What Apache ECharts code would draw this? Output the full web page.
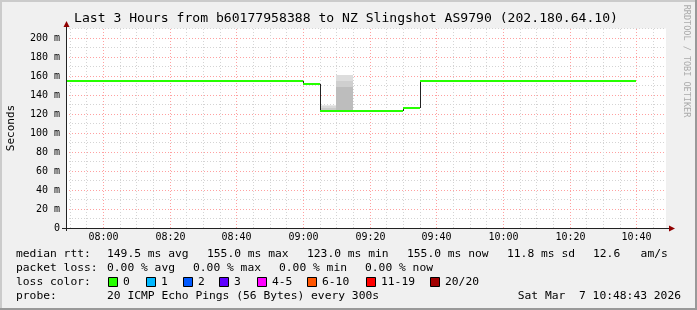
<!DOCTYPE html>
<html><head><meta charset="utf-8">
<script src="https://cdn.jsdelivr.net/npm/echarts@6/dist/echarts.min.js"></script>
<style>html,body{margin:0;padding:0;background:#F0F0F0}#c{width:697px;height:310px}</style>
</head><body><div id="c"></div>
<script>
// ---- data ----
const titleText = 'Last 3 Hours from b60177958388 to NZ Slingshot AS9790 (202.180.64.10)';
const endTime = '10:48:43';
const bucketStarts = ['07:45','07:50','07:55','08:00','08:05','08:10','08:15','08:20','08:25','08:30','08:35','08:40','08:45','08:50','08:55',
  '09:00','09:05','09:10','09:15','09:20','09:25','09:30',
  '09:35','09:40','09:45','09:50','09:55','10:00','10:05','10:10','10:15','10:20','10:25','10:30','10:35'];
const lastBucketEnd = '10:40';
const medianRtt = [155,155,155,155,155,155,155,155,155,155,155,155,155,155,155,
  152,123,123,123,123,123,126,
  155,155,155,155,155,155,155,155,155,155,155,155,155];
const smokeTimes = ['09:05','09:10'];
const smokeBounds = [[123,126,128,130],[123,148.5,155,161]];
const smokeShades = [['#cbcbcb','#dadada','#e8e8e8'],['#bdbdbd','#cfcfcf','#dddddd']];
const xTickLabels = ['08:00','08:20','08:40','09:00','09:20','09:40','10:00','10:20','10:40'];
const yMax = 210;
const medianStats = ['149.5 ms avg','155.0 ms max','123.0 ms min','155.0 ms now','11.8 ms sd','12.6   am/s'];
const lossStats = ['0.00 % avg','0.00 % max','0.00 % min','0.00 % now'];
const lossLabels = ['0','1','2','3','4-5','6-10','11-19','20/20'];
const lossColors = ['#26ff00','#00b8ff','#0059ff','#5e00ff','#ff00ff','#ff5500','#ff0000','#a10000'];
const probeText = '20 ICMP Echo Pings (56 Bytes) every 300s';
const dateText = 'Sat Mar  7 10:48:43 2026';

// ---- helpers ----
const toMin = s => { const p = s.split(':').map(Number); return p[0]*60 + p[1] + (p[2]||0)/60; };
const xMax = toMin(endTime), xMin = xMax - 180;
const MONO = '"DejaVu Sans Mono", monospace';

const gridTimes = [];
for (let t = Math.ceil(xMin/5)*5; t <= xMax; t += 5) gridTimes.push([t, t % 20 === 0 ? 1 : 0]);

const stepData = bucketStarts.map((s, i) => [
  toMin(s),
  toMin(i + 1 < bucketStarts.length ? bucketStarts[i+1] : lastBucketEnd),
  medianRtt[i],
  i > 0 ? medianRtt[i-1] : medianRtt[i]
]);
const smokeData = smokeTimes.map((s, i) => [toMin(s), toMin(s) + 5, i]);

const chart = echarts.init(document.getElementById('c'), null, {renderer: 'canvas'});

// legend graphics
const legendEls = [];
const txt = (x, y, text, extra) => legendEls.push(Object.assign({type:'text', x: x, y: y, silent: true,
  style: {text: text, font: '11.3px ' + MONO, fill: '#000', verticalAlign: 'middle', align: 'left'}}, extra || {}));
txt(16, 254, 'median rtt:');
const medX = [107, 207, 307, 407, 507, 593];
medianStats.forEach((s, i) => txt(medX[i], 254, s));
txt(16, 268, 'packet loss:');
const lossX = [107, 193, 279, 365];
lossStats.forEach((s, i) => txt(lossX[i], 268, s));
txt(16, 282, 'loss color:');
const boxX = [108, 146, 183, 219, 257, 307, 366, 430];
lossLabels.forEach((l, i) => {
  legendEls.push({type:'rect', silent:true, shape:{x: boxX[i]+0.5, y: 277.5, width: 9, height: 9},
    style:{fill: lossColors[i], stroke:'#000', lineWidth:1}});
  txt(boxX[i] + 15, 282, l);
});
txt(16, 296, 'probe:');
txt(107, 296, probeText);
legendEls.push({type:'text', x: 681, y: 296, silent:true,
  style:{text: dateText, font:'11.3px ' + MONO, fill:'#000', verticalAlign:'middle', align:'right'}});

const option = {
  animation: false,
  backgroundColor: '#F0F0F0',
  graphic: [
    {type:'rect', silent:true, shape:{x:0,y:0,width:697,height:2}, style:{fill:'#CBCBCB'}},
    {type:'rect', silent:true, shape:{x:0,y:0,width:2,height:310}, style:{fill:'#CBCBCB'}},
    {type:'rect', silent:true, shape:{x:0,y:308,width:697,height:2}, style:{fill:'#999999'}},
    {type:'rect', silent:true, shape:{x:695,y:0,width:2,height:310}, style:{fill:'#999999'}},
    {type:'text', silent:true, x: 346, y: 19,
      style:{text: titleText, font:'13.1px ' + MONO, fill:'#000', align:'center', verticalAlign:'middle'}},
    {type:'text', silent:true, x: 11, y: 128, rotation: Math.PI/2,
      style:{text:'Seconds', font:'11px ' + MONO, fill:'#000', align:'center', verticalAlign:'middle'}},
    {type:'text', silent:true, x: 686, y: 61, rotation: -Math.PI/2,
      style:{text:'RRDTOOL / TOBI OETIKER', font:'8.5px ' + MONO, fill:'#aaaaaa', align:'center', verticalAlign:'middle'}},
    // axes
    {type:'line', silent:true, z: 100, shape:{x1:66.5, y1:231, x2:66.5, y2:25}, style:{stroke:'#222', lineWidth:1}},
    {type:'line', silent:true, z: 100, shape:{x1:62, y1:228.5, x2:670, y2:228.5}, style:{stroke:'#222', lineWidth:1}},
    {type:'polygon', silent:true, z: 100, shape:{points:[[66.5,21],[63.5,27],[69.5,27]]}, style:{fill:'#900000'}},
    {type:'polygon', silent:true, z: 100, shape:{points:[[675,228.5],[669,225.5],[669,231.5]]}, style:{fill:'#900000'}}
  ].concat(legendEls),
  grid: {left: 66, top: 28.5, width: 600, height: 199.5, show: true, backgroundColor: '#fff', borderWidth: 0},
  xAxis: {type: 'value', min: xMin, max: xMax, axisLine: {show: false}, axisTick: {show: false},
    axisLabel: {show: false}, splitLine: {show: false}},
  yAxis: {type: 'value', min: 0, max: yMax, interval: 10,
    axisLine: {show: false}, axisTick: {show: false},
    axisLabel: {margin: 6, fontFamily: MONO, fontSize: 10, color: '#000',
      formatter: v => (v % 20 !== 0 || v > 200) ? '' : (v === 0 ? '0' : v + ' m')},
    splitLine: {show: true, lineStyle: {color: ['#FFA0A0', '#D4D4D4'], type: [1, 2], width: 1}}},
  series: [
    { // vertical grid lines
      type: 'custom', z: 1, clip: true, silent: true,
      data: gridTimes,
      renderItem: (params, api) => {
        const t = api.value(0), major = api.value(1);
        const p0 = api.coord([t, 0]), p1 = api.coord([t, yMax]);
        const x = Math.floor(p0[0]) + 0.5;
        return {type:'line', shape:{x1:x, y1:p0[1], x2:x, y2:p1[1]},
          style:{stroke: major ? '#FFA0A0' : '#D4D4D4', lineDash:[1,2], lineWidth:1}};
      }
    },
    { // x tick labels
      type: 'custom', z: 5, clip: false, silent: true,
      data: xTickLabels.map(l => [toMin(l)]),
      renderItem: (params, api) => {
        const p = api.coord([api.value(0), 0]);
        return {type:'text', x: Math.floor(p[0]) + 0.5, y: p[1] + 9.5,
          style:{text: xTickLabels[params.dataIndex], font:'10px ' + MONO, fill:'#000', align:'center', verticalAlign:'middle'}};
      }
    },
    { // smoke
      type: 'custom', z: 3, clip: true, silent: true,
      data: smokeData,
      renderItem: (params, api) => {
        const i = api.value(2);
        const b = smokeBounds[i], sh = smokeShades[i];
        const xa = Math.floor(api.coord([api.value(0), 0])[0]);
        const xb = Math.floor(api.coord([api.value(1), 0])[0]);
        const children = [];
        for (let k = 0; k < b.length - 1; k++) {
          const ya = api.coord([api.value(0), b[k]])[1];
          const yb = api.coord([api.value(0), b[k+1]])[1];
          children.push({type:'rect', shape:{x: xa, y: Math.round(yb), width: xb - xa, height: Math.round(ya) - Math.round(yb)},
            style:{fill: sh[k]}});
        }
        return {type:'group', children: children};
      }
    },
    { // median line
      type: 'custom', z: 4, clip: true, silent: true,
      data: stepData,
      renderItem: (params, api) => {
        const s = api.value(0), e = api.value(1), v = api.value(2), pv = api.value(3);
        const xa = Math.floor(api.coord([s, v])[0]);
        const xb = Math.floor(api.coord([e, v])[0]);
        const y = Math.round(api.coord([s, v])[1]);
        const yp = Math.round(api.coord([s, pv])[1]);
        const children = [];
        if (pv !== v) {
          children.push({type:'line', shape:{x1: xa + 0.5, y1: yp, x2: xa + 0.5, y2: y},
            style:{stroke:'#222', lineWidth: 1}});
        }
        children.push({type:'rect', shape:{x: xa, y: y - 1, width: xb - xa, height: 2},
          style:{fill: lossColors[0]}});
        return {type:'group', children: children};
      }
    }
  ]
};
chart.setOption(option);
</script>
</body></html>
